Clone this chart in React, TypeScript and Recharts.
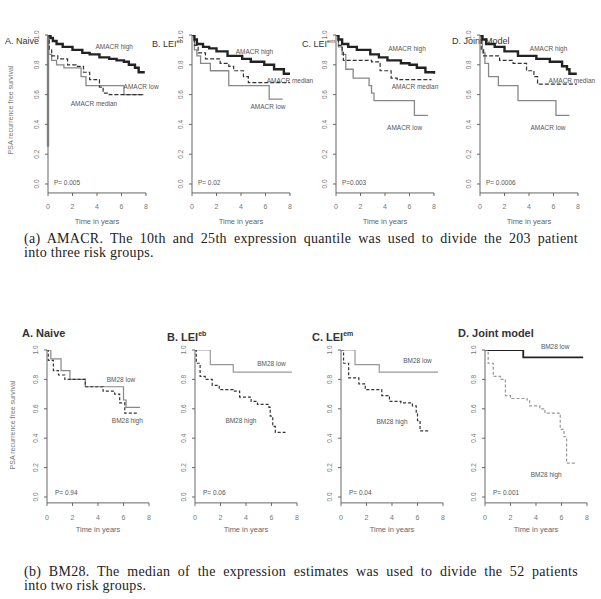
import React from 'react';
import { LineChart, Line, XAxis, YAxis, ReferenceDot } from 'recharts';

type Pt = [number, number];

// [time in years, survival] steps
// (a) AMACR
const amacrNaiveHigh: Pt[] = [[0, 1], [0.2, 0.98], [0.4, 0.96], [0.7, 0.94], [1.2, 0.92], [2.0, 0.9], [2.8, 0.88], [3.4, 0.87], [4.2, 0.85], [5.0, 0.84], [5.6, 0.83], [6.2, 0.82], [6.6, 0.8], [7.1, 0.78], [7.4, 0.75], [7.9, 0.75]];
const amacrNaiveMedian: Pt[] = [[0, 1], [0.1, 0.9], [0.3, 0.86], [0.8, 0.84], [1.6, 0.8], [2.3, 0.79], [2.9, 0.75], [3.4, 0.7], [4.2, 0.65], [4.5, 0.61], [5.0, 0.6], [7.8, 0.6]];
const amacrNaiveLow: Pt[] = [[0, 1], [0.05, 0.87], [0.3, 0.83], [0.7, 0.8], [1.3, 0.78], [2.7, 0.72], [3.1, 0.66], [6.2, 0.6], [7.8, 0.6]];
const amacrNaiveEdge: Pt[] = [[0, 1], [0, 0.25]];

const amacrEbHigh: Pt[] = [[0, 1], [0.2, 0.97], [0.4, 0.94], [0.9, 0.92], [1.4, 0.91], [2.0, 0.89], [2.9, 0.86], [4.1, 0.84], [4.8, 0.82], [5.9, 0.8], [6.7, 0.77], [7.5, 0.74], [8, 0.74]];
const amacrEbMedian: Pt[] = [[0, 1], [0.2, 0.93], [0.5, 0.88], [1.1, 0.84], [2.3, 0.81], [3.0, 0.79], [3.4, 0.76], [4.2, 0.72], [4.6, 0.68], [8, 0.68]];
const amacrEbLow: Pt[] = [[0, 1], [0.2, 0.9], [0.4, 0.86], [0.7, 0.81], [1.5, 0.76], [3.0, 0.66], [6.3, 0.57], [7.4, 0.57]];

const amacrEmHigh: Pt[] = [[0, 1], [0.2, 0.97], [0.5, 0.94], [1.0, 0.92], [1.7, 0.9], [2.8, 0.87], [3.5, 0.85], [4.2, 0.83], [5.3, 0.81], [6.0, 0.8], [6.6, 0.78], [7.3, 0.75], [8, 0.74]];
const amacrEmMedian: Pt[] = [[0, 1], [0.2, 0.93], [0.5, 0.89], [0.6, 0.83], [2.9, 0.82], [3.6, 0.76], [4.5, 0.71], [5.0, 0.7], [7.8, 0.7]];
const amacrEmLow: Pt[] = [[0, 1], [0.2, 0.92], [0.5, 0.87], [0.8, 0.77], [1.4, 0.71], [2.7, 0.66], [2.9, 0.61], [3.1, 0.56], [6.4, 0.46], [7.5, 0.46]];

const amacrJointHigh: Pt[] = [[0, 1], [0.2, 0.97], [0.5, 0.94], [1.2, 0.92], [2.0, 0.89], [3.1, 0.86], [4.6, 0.84], [5.7, 0.82], [6.7, 0.79], [7.1, 0.77], [7.3, 0.74], [7.9, 0.74]];
const amacrJointMedian: Pt[] = [[0, 1], [0.1, 0.9], [0.3, 0.86], [1.6, 0.83], [2.7, 0.81], [3.8, 0.76], [4.4, 0.72], [4.7, 0.67], [7.9, 0.67]];
const amacrJointLow: Pt[] = [[0, 1], [0.2, 0.88], [0.4, 0.81], [0.7, 0.72], [1.5, 0.66], [3.1, 0.56], [6.2, 0.46], [7.3, 0.46]];

// (b) BM28
const bmNaiveLow: Pt[] = [[0, 1], [0.3, 0.94], [1.1, 0.86], [1.8, 0.8], [3.0, 0.75], [6.0, 0.66], [6.2, 0.61], [7.3, 0.61]];
const bmNaiveHigh: Pt[] = [[0, 1], [0.1, 0.93], [0.5, 0.86], [0.9, 0.83], [1.4, 0.8], [3.0, 0.75], [4.4, 0.72], [5.3, 0.7], [5.7, 0.64], [6.1, 0.57], [7.2, 0.57]];

const bmEbLow: Pt[] = [[0, 1], [1.2, 0.9], [3.0, 0.85], [7.6, 0.85]];
const bmEbHigh: Pt[] = [[0, 1], [0.1, 0.91], [0.4, 0.82], [0.8, 0.8], [1.35, 0.76], [1.9, 0.73], [3.0, 0.72], [3.5, 0.68], [4.4, 0.65], [4.9, 0.63], [5.8, 0.61], [5.9, 0.55], [6.1, 0.48], [6.3, 0.44], [7.1, 0.44]];

const bmEmLow: Pt[] = [[0, 1], [1.1, 0.9], [3.0, 0.85], [7.6, 0.85]];
const bmEmHigh: Pt[] = [[0, 1], [0.2, 0.91], [0.6, 0.81], [1.4, 0.77], [1.9, 0.73], [3.2, 0.69], [3.8, 0.65], [4.7, 0.64], [5.6, 0.62], [5.9, 0.57], [6.0, 0.52], [6.2, 0.45], [7.0, 0.45]];

const bmJointLow: Pt[] = [[0, 1], [3.0, 0.95], [7.7, 0.95]];
const bmJointHigh: Pt[] = [[0, 1], [0.25, 0.91], [0.65, 0.82], [1.2, 0.8], [1.6, 0.69], [2.0, 0.67], [3.3, 0.66], [3.5, 0.62], [4.3, 0.6], [4.7, 0.57], [5.8, 0.56], [5.9, 0.46], [6.2, 0.41], [6.4, 0.23], [7.1, 0.23]];

const timeTicks = [0, 2, 4, 6, 8];
const survTicks = [0, 0.2, 0.4, 0.6, 0.8, 1];

const pTop = ['P= 0.005', 'P= 0.02', 'P=0.003', 'P= 0.0006'];
const pBottom = ['P= 0.94', 'P= 0.06', 'P= 0.04', 'P= 0.001'];

const SANS = 'Liberation Sans, Arial, sans-serif';
const SERIF = 'Liberation Serif, Times New Roman, serif';

interface Series {
  pts: Pt[];
  stroke: string;
  width: number;
  dash?: string;
}

interface Note {
  text: string;
  t: number;
  s: number;
  pos?: 'center' | 'right' | 'top';
}

interface PanelProps {
  left: number; // plot left (x = 0)
  top: number; // plot top (y = 1)
  plotW: number;
  plotH: number; // pixels from y = 1 to y = 0
  yMin: number;
  series: Series[];
  notes: Note[];
  tickGap: number;
  labelGap: number;
}

const YTick = (props: any) => {
  const { x, y, payload } = props;
  const cx = x - 4;
  return (
    <text x={cx} y={y} transform={`rotate(-90 ${cx} ${y})`} textAnchor="middle" fontSize={6.5} fill="#777" fontFamily={SANS}>
      {Number(payload.value).toFixed(1)}
    </text>
  );
};

const Panel: React.FC<PanelProps> = ({ left, top, plotW, plotH, yMin, series, notes, tickGap, labelGap }) => {
  const yAxisW = 40;
  const xAxisH = 42;
  const mTop = 14;
  const h = plotH * (1 - yMin);
  return (
    <div style={{ position: 'absolute', left: left - yAxisW, top: top - mTop }}>
      <LineChart width={yAxisW + plotW + 30} height={mTop + h + xAxisH} margin={{ top: mTop, right: 30, left: 0, bottom: 0 }}>
        <XAxis
          type="number"
          dataKey="t"
          domain={[0, 8]}
          ticks={timeTicks}
          tickSize={3}
          tickMargin={tickGap}
          tick={{ fontSize: 7, fill: '#777', fontFamily: SANS }}
          stroke="#666"
          height={xAxisH}
          label={{ value: 'Time in years', position: 'insideTop', offset: labelGap, fontSize: 7.5, fill: '#666', fontFamily: SANS }}
        />
        <YAxis
          type="number"
          domain={[yMin, 1]}
          ticks={survTicks}
          tickSize={3}
          tick={<YTick />}
          stroke="#666"
          width={yAxisW}
          allowDataOverflow
        />
        {series.map((sr, i) => (
          <Line
            key={i}
            data={sr.pts.map(([t, s]) => ({ t, s }))}
            dataKey="s"
            type="stepAfter"
            stroke={sr.stroke}
            strokeWidth={sr.width}
            strokeDasharray={sr.dash}
            dot={false}
            isAnimationActive={false}
          />
        ))}
        {notes.map((n, i) => (
          <ReferenceDot
            key={'n' + i}
            x={n.t}
            y={n.s}
            r={0}
            fill="none"
            stroke="none"
            label={{ value: n.text, position: n.pos || 'center', offset: 1, fontSize: 6.5, fill: '#555', fontFamily: SANS }}
          />
        ))}
      </LineChart>
    </div>
  );
};

const high = (pts: Pt[]): Series => ({ pts, stroke: '#222', width: 2.4 });
const median = (pts: Pt[]): Series => ({ pts, stroke: '#333', width: 1.2, dash: '4 2' });
const low = (pts: Pt[]): Series => ({ pts, stroke: '#888', width: 1.3 });

const topLefts = [48, 192, 336, 480];
const bottomLefts = [47, 195, 341, 485];

const topSeries: Series[][] = [
  [{ pts: amacrNaiveEdge, stroke: '#999', width: 2.5 }, low(amacrNaiveLow), median(amacrNaiveMedian), high(amacrNaiveHigh)],
  [low(amacrEbLow), median(amacrEbMedian), high(amacrEbHigh)],
  [low(amacrEmLow), median(amacrEmMedian), high(amacrEmHigh)],
  [low(amacrJointLow), median(amacrJointMedian), high(amacrJointHigh)],
];

const topNotes: Note[][] = [
  [{ text: 'AMACR high', t: 5.4, s: 0.92 }, { text: 'AMACR low', t: 7.6, s: 0.65 }, { text: 'AMACR median', t: 3.75, s: 0.54 }],
  [{ text: 'AMACR high', t: 5.1, s: 0.89 }, { text: 'AMACR median', t: 8, s: 0.69 }, { text: 'AMACR low', t: 6.2, s: 0.52 }],
  [{ text: 'AMACR high', t: 5.8, s: 0.91 }, { text: 'AMACR median', t: 6.45, s: 0.65 }, { text: 'AMACR low', t: 5.6, s: 0.38 }],
  [{ text: 'AMACR high', t: 5.6, s: 0.91 }, { text: 'AMACR median', t: 7.5, s: 0.69 }, { text: 'AMACR low', t: 5.55, s: 0.38 }],
];

const bottomSeries: Series[][] = [
  [{ pts: bmNaiveLow, stroke: '#888', width: 1.2 }, { pts: bmNaiveHigh, stroke: '#333', width: 1.2, dash: '3 2' }],
  [{ pts: bmEbLow, stroke: '#999', width: 1.2 }, { pts: bmEbHigh, stroke: '#333', width: 1.2, dash: '3 2' }],
  [{ pts: bmEmLow, stroke: '#999', width: 1.2 }, { pts: bmEmHigh, stroke: '#333', width: 1.2, dash: '3 2' }],
  [{ pts: bmJointLow, stroke: '#222', width: 1.8 }, { pts: bmJointHigh, stroke: '#999', width: 1.2, dash: '3 2' }],
];

const bottomNotes: Note[][] = [
  [{ text: 'BM28 low', t: 5.8, s: 0.8 }, { text: 'BM28 high', t: 6.3, s: 0.52 }],
  [{ text: 'BM28 low', t: 6.0, s: 0.91 }, { text: 'BM28 high', t: 3.6, s: 0.52 }],
  [{ text: 'BM28 low', t: 6.0, s: 0.93 }, { text: 'BM28 high', t: 4.0, s: 0.51 }],
  [{ text: 'BM28 low', t: 5.5, s: 1, pos: 'top' }, { text: 'BM28 high', t: 4.8, s: 0.15 }],
];

const topTitles = [
  <>A. Naive</>,
  <>B. LEI<sup style={{ fontSize: 6 }}>eb</sup></>,
  <>C. LEI<sup style={{ fontSize: 6 }}>em</sup></>,
  <>D. Joint Model</>,
];
const topTitleX = [5, 152, 302, 452];

const bottomTitles = [
  <>A. Naive</>,
  <>B. LEI<sup style={{ fontSize: 7 }}>eb</sup></>,
  <>C. LEI<sup style={{ fontSize: 7 }}>em</sup></>,
  <>D. Joint model</>,
];
const bottomTitleX = [22, 167, 312, 458];

const yLabel = 'PSA recurrence free survival';

const captionLine: React.CSSProperties = { width: 554, textAlign: 'justify', textAlignLast: 'justify' };

const App: React.FC = () => {
  return (
    <div style={{ position: 'absolute', left: 0, top: 0, width: 601, height: 599, background: '#fff', overflow: 'hidden' }}>
      {topTitles.map((t, i) => (
        <div key={'tt' + i} style={{ position: 'absolute', left: topTitleX[i], top: 36, fontSize: 9, fontFamily: SANS, color: '#333', lineHeight: '11px' }}>
          {t}
        </div>
      ))}
      {topLefts.map((l, i) => (
        <Panel
          key={'tp' + i}
          left={l}
          top={35}
          plotW={98}
          plotH={149}
          yMin={-0.06}
          series={topSeries[i]}
          notes={[...topNotes[i], { text: pTop[i], t: 0.4, s: 0.01, pos: 'right' }]}
          tickGap={8}
          labelGap={26}
        />
      ))}
      <div style={{ position: 'absolute', left: 10, top: 110, transform: 'translate(-50%, -50%) rotate(-90deg)', fontSize: 7, fontFamily: SANS, color: '#777', whiteSpace: 'nowrap' }}>
        {yLabel}
      </div>

      <div style={{ position: 'absolute', left: 24, top: 232, fontFamily: SERIF, fontSize: 14, letterSpacing: 0.3, color: '#222', lineHeight: '14px' }}>
        <div style={captionLine}>
          (a) AMACR. The 10th and 25th expression quantile was used to divide the 203 patient
        </div>
        <div>into three risk groups.</div>
      </div>

      {bottomTitles.map((t, i) => (
        <div key={'bt' + i} style={{ position: 'absolute', left: bottomTitleX[i], top: 327, fontSize: 11, fontWeight: 'bold', fontFamily: SANS, color: '#333', lineHeight: '13px' }}>
          {t}
        </div>
      ))}
      {bottomLefts.map((l, i) => (
        <Panel
          key={'bp' + i}
          left={l}
          top={350}
          plotW={102}
          plotH={147}
          yMin={-0.04}
          series={bottomSeries[i]}
          notes={[...bottomNotes[i], { text: pBottom[i], t: 0.55, s: 0.03, pos: 'right' }]}
          tickGap={9}
          labelGap={24}
        />
      ))}
      <div style={{ position: 'absolute', left: 12, top: 425, transform: 'translate(-50%, -50%) rotate(-90deg)', fontSize: 7, fontFamily: SANS, color: '#777', whiteSpace: 'nowrap' }}>
        {yLabel}
      </div>

      <div style={{ position: 'absolute', left: 24, top: 565, fontFamily: SERIF, fontSize: 14, letterSpacing: 0.3, color: '#222', lineHeight: '14px' }}>
        <div style={captionLine}>
          (b) BM28. The median of the expression estimates was used to divide the 52 patients
        </div>
        <div>into two risk groups.</div>
      </div>
    </div>
  );
};

export default App;
